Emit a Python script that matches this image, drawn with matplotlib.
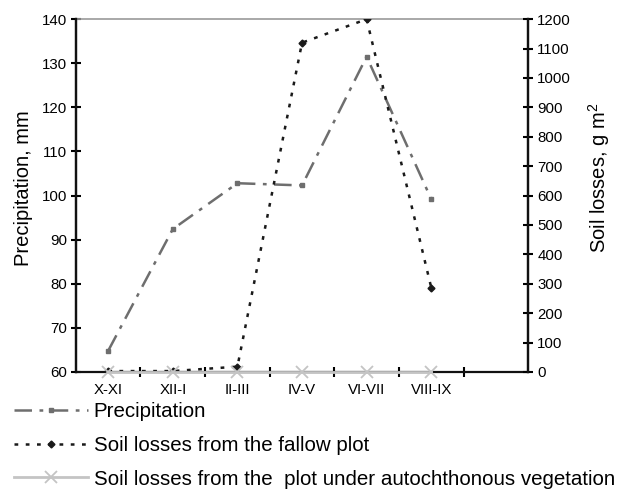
import matplotlib.pyplot as plt
import numpy as np

plt.rcParams['font.family'] = ['Liberation Sans', 'DejaVu Sans']
plt.rcParams['mathtext.fontset'] = 'custom'
plt.rcParams['mathtext.rm'] = 'Liberation Sans'
plt.rcParams['mathtext.it'] = 'Liberation Sans'

periods = ['X-XI', 'XII-I', 'II-III', 'IV-V', 'VI-VII', 'VIII-IX']
precipitation = [64.8, 92.4, 102.8, 102.3, 131.5, 99.2]
soil_fallow = [3, 3, 18, 1120, 1200, 287]
soil_autochthonous = [0, 0, 0, 0, 0, 0]

fig = plt.figure(figsize=(6.17, 4.92), dpi=100)
ax1 = fig.add_axes([0.123, 0.244, 0.733, 0.717])
ax2 = ax1.twinx()

x = np.arange(len(periods))

l1, = ax1.plot(x, precipitation, color='#6e6e6e', lw=1.8,
               linestyle=(0, (7, 3, 1.5, 3)), marker='s', markersize=3,
               label='Precipitation')
l2, = ax2.plot(x, soil_fallow, color='#1a1a1a', lw=1.8,
               linestyle=(0, (1.5, 3)), marker='D', markersize=3.5,
               label='Soil losses from the fallow plot', zorder=3)
l3, = ax2.plot(x, soil_autochthonous, color='#c4c4c4', lw=2,
               marker='x', markersize=9, markeredgewidth=1.3,
               label='Soil losses from the  plot under autochthonous vegetation',
               zorder=4, clip_on=False)

ax1.set_xlim(-0.5, 6.5)
ax1.set_ylim(60, 140)
ax2.set_ylim(0, 1200)
ax1.set_yticks(np.arange(60, 141, 10))
ax2.set_yticks(np.arange(0, 1201, 100))

ax1.set_xticks(x)
ax1.set_xticklabels(periods)
ax1.set_xticks(np.arange(0.5, 6, 1), minor=True)
ax1.tick_params(axis='x', which='major', length=0, pad=8, labelsize=10.8)
ax1.tick_params(axis='x', which='minor', direction='inout', length=7, width=1.5)
ax1.tick_params(axis='y', direction='inout', length=7, width=1.5, labelsize=10.8, pad=3)
ax2.tick_params(axis='y', direction='inout', length=7, width=1.5, labelsize=10.8, pad=3)

for ax in (ax1, ax2):
    for s in ('left', 'right', 'bottom'):
        ax.spines[s].set_linewidth(1.6)
        ax.spines[s].set_color('#111111')
ax1.spines['top'].set_color('#999999')
ax1.spines['top'].set_linewidth(1.2)
ax2.spines['top'].set_visible(False)
ax2.spines['bottom'].set_visible(False)

ax1.set_ylabel('Precipitation, mm', fontsize=14.5)
ax1.yaxis.set_label_coords(-0.095, 0.52)
ax2.set_ylabel('Soil losses, g m$^{2}$', fontsize=14.5)
ax2.yaxis.set_label_coords(1.128, 0.55)

fig.legend(handles=[l1, l2, l3], loc='upper left', bbox_to_anchor=(0.022, 0.183),
           frameon=False, fontsize=14.8, handlelength=3.6, labelspacing=0.72,
           borderpad=0, borderaxespad=0, handletextpad=0.3)

fig.savefig('out.png', dpi=100)
